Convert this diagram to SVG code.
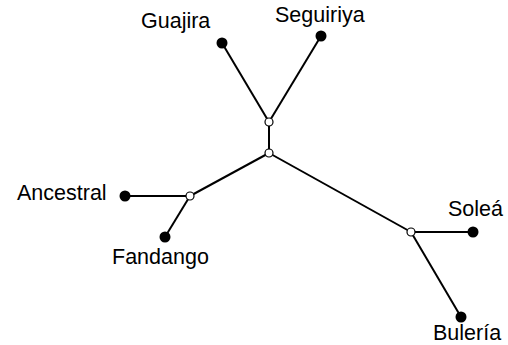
<svg xmlns="http://www.w3.org/2000/svg" width="508" height="345" viewBox="0 0 508 345">
<style>
.e{stroke:#000;stroke-width:2;fill:none}
.leaf{fill:#000}
.inner{fill:#fff;stroke:#000;stroke-width:1.2}
text{font-family:"Liberation Sans",Arial,sans-serif;font-size:21.5px;fill:#000}
</style>
<rect width="508" height="345" fill="#fff"/>
<g id="connectors">
<line class="e" x1="222" y1="43" x2="269" y2="122"/>
<line class="e" x1="321" y1="36" x2="269" y2="122"/>
<line class="e" x1="269" y1="122" x2="269" y2="153"/>
<line class="e" x1="269" y1="153" x2="190" y2="196"/>
<line class="e" x1="269" y1="153" x2="411" y2="232"/>
<line class="e" x1="190" y1="196" x2="125" y2="196"/>
<line class="e" x1="190" y1="196" x2="165" y2="237"/>
<line class="e" x1="411" y1="232" x2="473" y2="232"/>
<line class="e" x1="411" y1="232" x2="461" y2="317"/>
</g>
<g id="n-guajira"><circle class="leaf" cx="222" cy="43" r="5.5"/><text x="141" y="28">Guajira</text></g>
<g id="n-seguiriya"><circle class="leaf" cx="321" cy="36" r="5.5"/><text x="275" y="22">Seguiriya</text></g>
<g id="n-inner1"><circle class="inner" cx="269" cy="122" r="4"/></g>
<g id="n-inner2"><circle class="inner" cx="269" cy="153" r="4"/></g>
<g id="n-inner3"><circle class="inner" cx="190" cy="196" r="4"/></g>
<g id="n-inner4"><circle class="inner" cx="411" cy="232" r="4"/></g>
<g id="n-ancestral"><circle class="leaf" cx="125" cy="196" r="5.5"/><text x="17" y="200">Ancestral</text></g>
<g id="n-fandango"><circle class="leaf" cx="165" cy="237" r="5.5"/><text x="112" y="264">Fandango</text></g>
<g id="n-solea"><circle class="leaf" cx="473" cy="232" r="5.5"/><text x="448" y="216">Soleá</text></g>
<g id="n-buleria"><circle class="leaf" cx="461" cy="317" r="5.5"/><text x="433" y="340">Bulería</text></g>
</svg>
